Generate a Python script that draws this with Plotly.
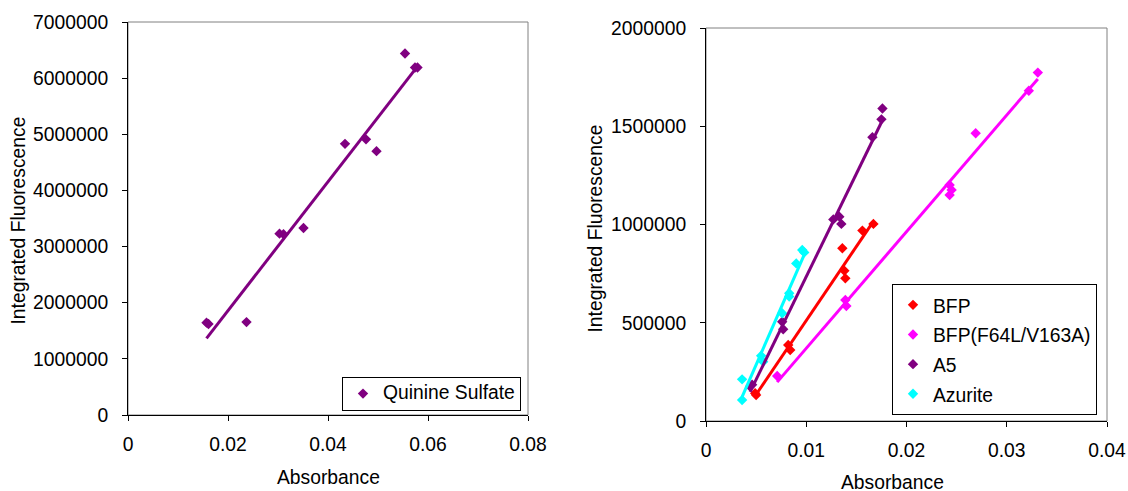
import numpy as np
import plotly.graph_objects as go

# ---- data ----
qs_x = [0.0157, 0.0161, 0.0237, 0.0303, 0.0311, 0.0351, 0.0434, 0.0476, 0.0497, 0.0554, 0.0574, 0.0579]
qs_y = [1645000, 1620000, 1655000, 3230000, 3220000, 3330000, 4830000, 4910000, 4700000, 6440000, 6190000, 6190000]

bfp_x = [0.0049, 0.0050, 0.0082, 0.0084, 0.0136, 0.0138, 0.0139, 0.0156, 0.0167]
bfp_y = [141000, 132000, 387000, 361000, 879000, 765000, 726000, 969000, 1003000]

mut_x = [0.0071, 0.0139, 0.0140, 0.0243, 0.0245, 0.0243, 0.0269, 0.0322, 0.0331]
mut_y = [229000, 616000, 585000, 1201000, 1176000, 1150000, 1464000, 1681000, 1773000]

a5_x = [0.0044, 0.0046, 0.0076, 0.0077, 0.0127, 0.0133, 0.0135, 0.0166, 0.0175, 0.0176]
a5_y = [175000, 185000, 505000, 467000, 1026000, 1040000, 1003000, 1444000, 1535000, 1590000]

az_x = [0.0036, 0.0036, 0.0055, 0.0057, 0.0076, 0.0083, 0.0083, 0.0090, 0.0096, 0.0098]
az_y = [212000, 107000, 332000, 302000, 548000, 650000, 633000, 802000, 870000, 858000]

left_series = [("Quinine Sulfate", qs_x, qs_y, "#800080")]
right_series = [
    ("BFP", bfp_x, bfp_y, "#FF0000"),
    ("BFP(F64L/V163A)", mut_x, mut_y, "#FF00FF"),
    ("A5", a5_x, a5_y, "#800080"),
    ("Azurite", az_x, az_y, "#00FFFF"),
]

FONT = "Liberation Sans, Arial, sans-serif"
FS = 19.3
LEG1_FS = 14    # controls legend box height; text itself drawn at FS
LEG2_FS = 20.5  # controls legend row spacing; text itself drawn at FS

W, H = 1128, 491


def px(x):
    return x / W


def py(y):
    return 1 - y / H


fig = go.Figure()


def add_series(series, xa, ya, legend):
    fits = []
    for name, xs, ys, col in series:
        label = f'<span style="font-size:{FS}px">{name}</span>'
        fig.add_trace(go.Scatter(
            x=xs, y=ys, mode="markers", name=label, xaxis=xa, yaxis=ya,
            legend=legend,
            marker=dict(symbol="diamond", size=8, color=col, line=dict(width=0)),
        ))
        xs_a = np.array(xs)
        m, b = np.polyfit(xs_a, np.array(ys), 1)
        xl = [xs_a.min(), xs_a.max()]
        fits.append(go.Scatter(
            x=xl, y=[m * v + b for v in xl], mode="lines", showlegend=False,
            xaxis=xa, yaxis=ya, line=dict(color=col, width=3), hoverinfo="skip",
        ))
    for f in fits:
        fig.add_trace(f)


add_series(left_series, "x", "y", "legend")
add_series(right_series, "x2", "y2", "legend2")

L1 = [px(128), px(528)]
T1 = [py(415), py(22)]
L2 = [px(706), px(1107)]
T2 = [py(421), py(28)]

axis_common = dict(
    automargin=False,
    showgrid=False, zeroline=False, showline=True, linecolor="black", linewidth=1,
    ticks="outside", ticklen=5, tickcolor="black", tickwidth=1,
    tickfont=dict(family=FONT, size=FS, color="black"),
)

fig.update_layout(
    width=W, height=H,
    margin=dict(l=0, r=0, t=0, b=0, autoexpand=False),
    paper_bgcolor="white", plot_bgcolor="white",
    font=dict(family=FONT, size=FS, color="black"),
    xaxis=dict(domain=L1, anchor="y", range=[0, 0.08], dtick=0.02, ticklabelstandoff=7, **axis_common),
    yaxis=dict(domain=T1, anchor="x", range=[0, 7000000], dtick=1000000, tickformat="d", ticklabelstandoff=10, **axis_common),
    xaxis2=dict(domain=L2, anchor="y2", range=[0, 0.04], dtick=0.01, ticklabelstandoff=7, **axis_common),
    yaxis2=dict(domain=T2, anchor="x2", range=[0, 2000000], dtick=500000, tickformat="d", ticklabelstandoff=10, **axis_common),
    legend=dict(
        x=px(521), y=py(394), xanchor="right", yanchor="middle",
        bgcolor="white", bordercolor="black", borderwidth=1,
        font=dict(family=FONT, size=LEG1_FS, color="black"),
    ),
    legend2=dict(
        x=px(1097), y=py(349.5), xanchor="right", yanchor="middle",
        bgcolor="white", bordercolor="black", borderwidth=1,
        font=dict(family=FONT, size=LEG2_FS, color="black"),
    ),
    showlegend=True,
)

# grey plot-area frames (top/right edges)
for xr, yr in [("x domain", "y domain"), ("x2 domain", "y2 domain")]:
    fig.add_shape(type="rect", xref=xr, yref=yr, x0=0, x1=1, y0=0, y1=1,
                  line=dict(color="#808080", width=1), layer="below")

# axis titles
ann = [
    dict(text="Absorbance", x=px(328), y=py(477)),
    dict(text="Absorbance", x=px(892), y=py(482.5)),
    dict(text="Integrated Fluorescence", x=px(18.5), y=py(221), textangle=-90),
    dict(text="Integrated Fluorescence", x=px(594.5), y=py(228), textangle=-90),
]
for a in ann:
    fig.add_annotation(xref="paper", yref="paper", showarrow=False,
                       xanchor="center", yanchor="middle",
                       font=dict(family=FONT, size=FS, color="black"), **a)

# let the 1128x491 figure fill the page exactly (no body margin, no scrollbars)
page_fix = (
    "document.body.style.margin='0';"
    "document.documentElement.style.overflow='hidden';"
    "document.body.style.overflow='hidden';"
)
fig.write_html("out.html", post_script=page_fix, config={"displayModeBar": False})
